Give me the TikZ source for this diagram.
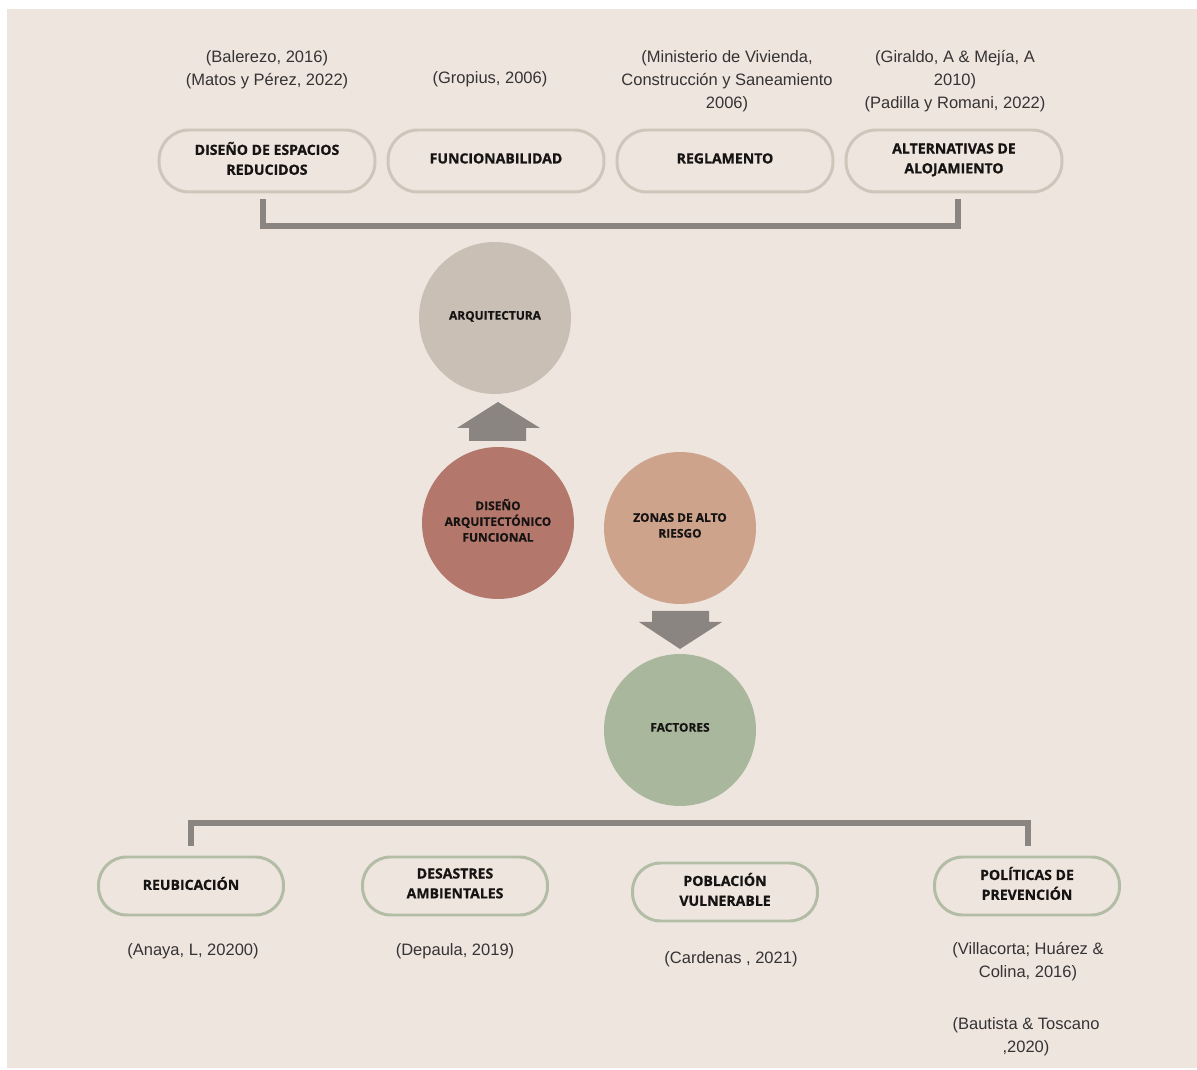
\documentclass[tikz,border=0pt]{standalone}
\usepackage{fontspec}
\setmainfont{Liberation Sans}
\newfontfamily\pillfont{Open Sans}[BoldFeatures={FakeBold=0.8}]
\usepackage{xcolor}
\definecolor{paper}{HTML}{EEE5DF}
\definecolor{taupe}{HTML}{CFC5BA}
\definecolor{sage}{HTML}{B3BCA5}
\definecolor{slate}{HTML}{8A8580}
\definecolor{stone}{HTML}{C9BFB5}
\definecolor{brick}{HTML}{B4776C}
\definecolor{sand}{HTML}{CDA38B}
\definecolor{moss}{HTML}{A9B79C}
\definecolor{ink}{HTML}{161413}
\definecolor{graytext}{HTML}{353333}
\usepackage{tikz}
\usetikzlibrary{calc}

\begin{document}
\begin{tikzpicture}[
      x=0.02cm, y=-0.02cm,
      every node/.style={text=ink},
      pill/.style={
        draw=#1, fill=paper, line width=1.7pt, align=center, inner sep=0pt, text depth=3pt,
        font=\pillfont\bfseries\fontsize{8}{11.3}\selectfont
      },
      toppill/.style={pill=taupe, rounded corners=0.6cm, minimum width=4.32cm, minimum height=1.24cm},
      botpill/.style={pill=sage, rounded corners=0.56cm, minimum width=3.7cm, minimum height=1.16cm},
      ball/.style={
        circle, fill=#1, minimum size=3.04cm, inner sep=0pt, align=center, text depth=3pt,
        font=\pillfont\bfseries\fontsize{6.8}{9}\selectfont
      },
      cite/.style={align=center, inner sep=0pt, text=graytext, font=\fontsize{9.4}{13}\selectfont},
      bracket/.style={draw=slate, line width=3pt},
      blockarr/.style={fill=slate},
    ]
      \useasboundingbox (0,0) rectangle (1197,1070);
      \fill[paper] (7,9) rectangle (1197,1068);
      % top row
      \node[cite] (c-esp) at (267,70) {(Balerezo, 2016)\\(Matos y Pérez, 2022)};
      \node[cite] (c-func) at (490,79) {(Gropius, 2006)};
      \node[cite] (c-regl) at (727,81) {(Ministerio de Vivienda,\\Construcción y Saneamiento\\2006)};
      \node[cite] (c-aloj) at (955,81) {(Giraldo, A \& Mejía, A\\2010)\\(Padilla y Romani, 2022)};
      \node[toppill] (esp) at (267,161) {DISEÑO DE ESPACIOS\\REDUCIDOS};
      \node[toppill] (func) at (496,161) {FUNCIONABILIDAD};
      \node[toppill] (regl) at (725,161) {REGLAMENTO};
      \node[toppill] (aloj) at (954,161) {ALTERNATIVAS DE\\ALOJAMIENTO};
      \coordinate (tl) at (263,199);
      \coordinate (tr) at (958,199);
      \draw[bracket] (tl) -- ++(0,27) -| (tr);
      % circles
      \node[ball=stone] (arq) at (495,318) {ARQUITECTURA};
      \node[ball=brick] (disfun) at (498,523) {DISEÑO\\ARQUITECTÓNICO\\FUNCIONAL};
      \node[ball=sand] (zonas) at (680,528) {ZONAS DE ALTO\\RIESGO};
      \node[ball=moss] (fact) at (680,730) {FACTORES};
      \fill[blockarr] (469,441) -- (469,428) -- (457,428) -- (498,402)
        -- (540,428) -- (526,428) -- (526,441) -- cycle;
      \fill[blockarr] (652,611) -- (709,611) -- (709,622) -- (722,622)
        -- (680,649) -- (639,622) -- (652,622) -- cycle;
      % bottom row
      \coordinate (bl) at (191,846);
      \coordinate (br) at (1028,846);
      \draw[bracket] (bl) -- ++(0,-23) -| (br);
      \node[botpill] (reub) at (191,886) {REUBICACIÓN};
      \node[botpill] (desast) at (455,886) {DESASTRES\\AMBIENTALES};
      \node[botpill] (pobl) at (725,892) {POBLACIÓN\\VULNERABLE};
      \node[botpill] (polit) at (1027,886) {POLÍTICAS DE\\PREVENCIÓN};
      \node[cite] (c-reub) at (193,951) {(Anaya, L, 20200)};
      \node[cite] (c-desast) at (455,951) {(Depaula, 2019)};
      \node[cite] (c-pobl) at (731,959) {(Cardenas , 2021)};
      \node[cite] (c-polit) at (1028,962) {(Villacorta; Huárez \&\\Colina, 2016)};
      \node[cite] (c-polit2) at (1026,1037) {(Bautista \& Toscano\\,2020)};
    \end{tikzpicture}
\end{document}
